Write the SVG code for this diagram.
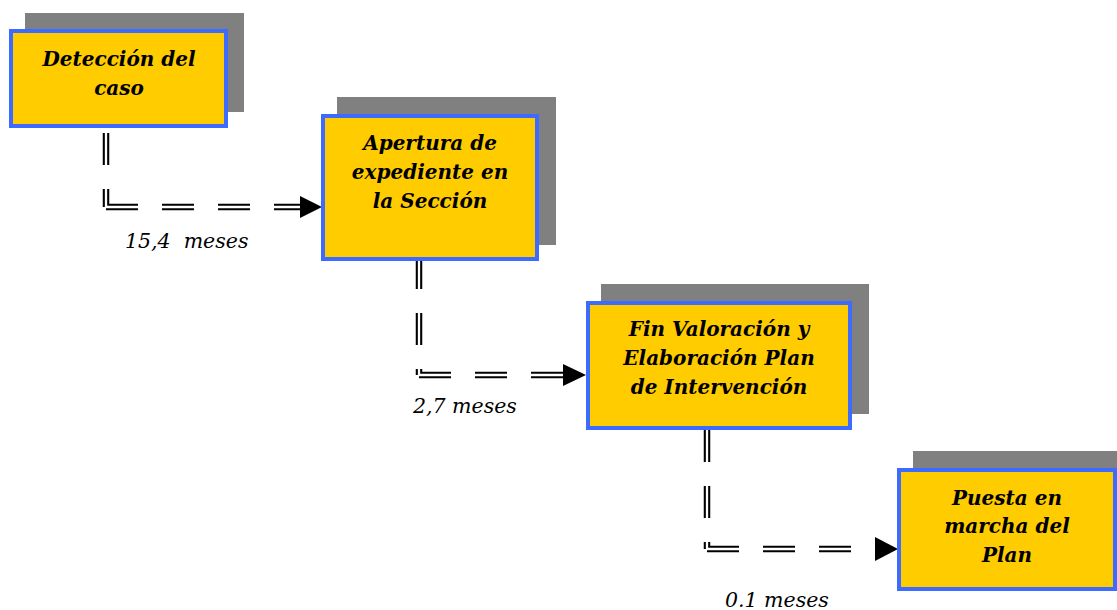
<svg xmlns="http://www.w3.org/2000/svg" width="1117" height="610" viewBox="0 0 1117 610">
<style>
.shadow{fill:#808080}
.box{fill:#FFCC00;stroke:#3D6BFF;stroke-width:4}
.t{font-family:"DejaVu Serif","Liberation Serif",serif;font-style:italic;font-weight:bold;font-size:20px;fill:#000;text-anchor:middle}
.lbl{font-family:"DejaVu Serif","Liberation Serif",serif;font-style:italic;font-size:20.5px;fill:#000}
.outer{fill:none;stroke:#000;stroke-width:6.5;stroke-dasharray:32 24}
.inner{fill:none;stroke:#fff;stroke-width:2.3;stroke-dasharray:32 24}
.arrow{fill:#000}
</style>
<rect width="1117" height="610" fill="#fff"/>
<g id="connectors">
  <g id="c1">
    <path class="outer" d="M106,133 V207"/>
    <path class="outer" d="M106,207 H300"/>
    <path class="inner" d="M106,133 V207"/>
    <path class="inner" d="M106,207 H300"/>
    <polygon class="arrow" points="300,196 322,207 300,218"/>
  </g>
  <g id="c2">
    <path class="outer" d="M419,257 V375"/>
    <path class="outer" d="M419,375 H563"/>
    <path class="inner" d="M419,257 V375"/>
    <path class="inner" d="M419,375 H563"/>
    <polygon class="arrow" points="563,364 586,375 563,386"/>
  </g>
  <g id="c3">
    <path class="outer" d="M707,430 V549"/>
    <path class="outer" d="M707,549 H851"/>
    <path class="inner" d="M707,430 V549"/>
    <path class="inner" d="M707,549 H851"/>
    <polygon class="arrow" points="875,537 898,549 875,561"/>
  </g>
  <text class="lbl" x="125" y="248" xml:space="preserve">15,4  meses</text>
  <text class="lbl" x="413" y="413">2,7 meses</text>
  <text class="lbl" x="725" y="607">0.1 meses</text>
</g>
<g id="node1">
  <rect class="shadow" x="25" y="13" width="219" height="99"/>
  <rect class="box" x="11" y="31" width="215" height="95"/>
  <text class="t" x="119" y="66">Detección del</text>
  <text class="t" x="119" y="95">caso</text>
</g>
<g id="node2">
  <rect class="shadow" x="337" y="97" width="219" height="148"/>
  <rect class="box" x="323" y="116" width="214" height="143"/>
  <text class="t" x="430" y="150">Apertura de</text>
  <text class="t" x="430" y="179">expediente en</text>
  <text class="t" x="430" y="208">la Sección</text>
</g>
<g id="node3">
  <rect class="shadow" x="601" y="284" width="268" height="130"/>
  <rect class="box" x="588" y="303" width="262" height="125"/>
  <text class="t" x="719" y="336">Fin Valoración y</text>
  <text class="t" x="719" y="365">Elaboración Plan</text>
  <text class="t" x="719" y="394">de Intervención</text>
</g>
<g id="node4">
  <rect class="shadow" x="913" y="451" width="204" height="124"/>
  <rect class="box" x="899" y="470" width="216" height="119"/>
  <text class="t" x="1007" y="505">Puesta en</text>
  <text class="t" x="1007" y="533">marcha del</text>
  <text class="t" x="1007" y="562">Plan</text>
</g>
</svg>
